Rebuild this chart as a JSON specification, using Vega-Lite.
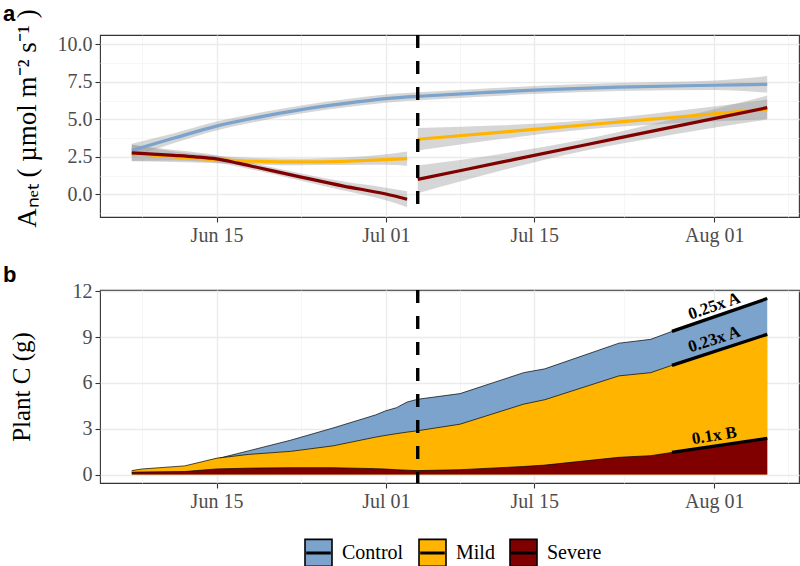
{
  "$schema": "https://vega.github.io/schema/vega-lite/v6.json",
  "background": "white",
  "padding": {"left": 2, "top": 2, "right": 0, "bottom": 0},
  "spacing": 17,
  "datasets": {
    "anet": [
      {"d": "2021-06-07", "t": "Control", "s": "all", "fit": 2.93, "lo": 2.48, "hi": 3.38},
      {"d": "2021-06-11", "t": "Control", "s": "all", "fit": 3.75, "lo": 3.42, "hi": 4.08},
      {"d": "2021-06-15", "t": "Control", "s": "all", "fit": 4.55, "lo": 4.25, "hi": 4.85},
      {"d": "2021-06-19", "t": "Control", "s": "all", "fit": 5.15, "lo": 4.87, "hi": 5.43},
      {"d": "2021-06-23", "t": "Control", "s": "all", "fit": 5.65, "lo": 5.38, "hi": 5.92},
      {"d": "2021-06-27", "t": "Control", "s": "all", "fit": 6.05, "lo": 5.78, "hi": 6.32},
      {"d": "2021-07-01", "t": "Control", "s": "all", "fit": 6.38, "lo": 6.11, "hi": 6.65},
      {"d": "2021-07-05", "t": "Control", "s": "all", "fit": 6.57, "lo": 6.31, "hi": 6.83},
      {"d": "2021-07-10", "t": "Control", "s": "all", "fit": 6.77, "lo": 6.51, "hi": 7.03},
      {"d": "2021-07-15", "t": "Control", "s": "all", "fit": 6.95, "lo": 6.68, "hi": 7.22},
      {"d": "2021-07-23", "t": "Control", "s": "all", "fit": 7.15, "lo": 6.88, "hi": 7.42},
      {"d": "2021-08-01", "t": "Control", "s": "all", "fit": 7.27, "lo": 6.95, "hi": 7.59},
      {"d": "2021-08-06", "t": "Control", "s": "all", "fit": 7.33, "lo": 6.78, "hi": 7.88},
      {"d": "2021-06-07", "t": "Mild", "s": "pre", "fit": 2.75, "lo": 2.20, "hi": 3.30},
      {"d": "2021-06-11", "t": "Mild", "s": "pre", "fit": 2.50, "lo": 2.15, "hi": 2.85},
      {"d": "2021-06-15", "t": "Mild", "s": "pre", "fit": 2.32, "lo": 2.07, "hi": 2.57},
      {"d": "2021-06-19", "t": "Mild", "s": "pre", "fit": 2.20, "lo": 1.98, "hi": 2.42},
      {"d": "2021-06-23", "t": "Mild", "s": "pre", "fit": 2.16, "lo": 1.94, "hi": 2.38},
      {"d": "2021-06-27", "t": "Mild", "s": "pre", "fit": 2.20, "lo": 1.95, "hi": 2.45},
      {"d": "2021-07-01", "t": "Mild", "s": "pre", "fit": 2.32, "lo": 1.97, "hi": 2.67},
      {"d": "2021-07-03", "t": "Mild", "s": "pre", "fit": 2.38, "lo": 1.91, "hi": 2.85},
      {"d": "2021-07-04", "t": "Mild", "s": "post", "fit": 3.67, "lo": 2.92, "hi": 4.42},
      {"d": "2021-07-12", "t": "Mild", "s": "post", "fit": 4.15, "lo": 3.70, "hi": 4.60},
      {"d": "2021-07-20", "t": "Mild", "s": "post", "fit": 4.64, "lo": 4.34, "hi": 4.94},
      {"d": "2021-07-28", "t": "Mild", "s": "post", "fit": 5.12, "lo": 4.72, "hi": 5.52},
      {"d": "2021-08-06", "t": "Mild", "s": "post", "fit": 5.67, "lo": 5.02, "hi": 6.32},
      {"d": "2021-06-07", "t": "Severe", "s": "pre", "fit": 2.77, "lo": 2.22, "hi": 3.32},
      {"d": "2021-06-11", "t": "Severe", "s": "pre", "fit": 2.60, "lo": 2.25, "hi": 2.95},
      {"d": "2021-06-13", "t": "Severe", "s": "pre", "fit": 2.50, "lo": 2.20, "hi": 2.80},
      {"d": "2021-06-15", "t": "Severe", "s": "pre", "fit": 2.36, "lo": 2.11, "hi": 2.61},
      {"d": "2021-06-17", "t": "Severe", "s": "pre", "fit": 2.08, "lo": 1.85, "hi": 2.31},
      {"d": "2021-06-19", "t": "Severe", "s": "pre", "fit": 1.77, "lo": 1.55, "hi": 1.99},
      {"d": "2021-06-23", "t": "Severe", "s": "pre", "fit": 1.15, "lo": 0.91, "hi": 1.39},
      {"d": "2021-06-27", "t": "Severe", "s": "pre", "fit": 0.55, "lo": 0.25, "hi": 0.85},
      {"d": "2021-07-01", "t": "Severe", "s": "pre", "fit": 0.02, "lo": -0.40, "hi": 0.44},
      {"d": "2021-07-03", "t": "Severe", "s": "pre", "fit": -0.33, "lo": -0.86, "hi": 0.20},
      {"d": "2021-07-04", "t": "Severe", "s": "post", "fit": 1.00, "lo": 0.08, "hi": 1.92},
      {"d": "2021-07-12", "t": "Severe", "s": "post", "fit": 2.16, "lo": 1.61, "hi": 2.71},
      {"d": "2021-07-20", "t": "Severe", "s": "post", "fit": 3.32, "lo": 2.94, "hi": 3.70},
      {"d": "2021-07-28", "t": "Severe", "s": "post", "fit": 4.48, "lo": 3.98, "hi": 4.98},
      {"d": "2021-08-06", "t": "Severe", "s": "post", "fit": 5.78, "lo": 4.98, "hi": 6.58}
    ],
    "plantc": [
      {"d": "2021-06-07", "t": "Control", "v": 0.20}, {"d": "2021-06-08", "t": "Control", "v": 0.30},
      {"d": "2021-06-12", "t": "Control", "v": 0.48}, {"d": "2021-06-15", "t": "Control", "v": 1.03},
      {"d": "2021-06-18", "t": "Control", "v": 1.55}, {"d": "2021-06-22", "t": "Control", "v": 2.25},
      {"d": "2021-06-26", "t": "Control", "v": 3.05}, {"d": "2021-06-30", "t": "Control", "v": 3.90},
      {"d": "2021-07-01", "t": "Control", "v": 4.18}, {"d": "2021-07-02", "t": "Control", "v": 4.38},
      {"d": "2021-07-03", "t": "Control", "v": 4.75}, {"d": "2021-07-04", "t": "Control", "v": 4.93},
      {"d": "2021-07-08", "t": "Control", "v": 5.30}, {"d": "2021-07-14", "t": "Control", "v": 6.67},
      {"d": "2021-07-16", "t": "Control", "v": 6.92}, {"d": "2021-07-23", "t": "Control", "v": 8.60},
      {"d": "2021-07-26", "t": "Control", "v": 8.85}, {"d": "2021-07-28", "t": "Control", "v": 9.37},
      {"d": "2021-08-06", "t": "Control", "v": 11.52},
      {"d": "2021-06-07", "t": "Mild", "v": 0.26}, {"d": "2021-06-08", "t": "Mild", "v": 0.37},
      {"d": "2021-06-12", "t": "Mild", "v": 0.57}, {"d": "2021-06-15", "t": "Mild", "v": 1.07},
      {"d": "2021-06-18", "t": "Mild", "v": 1.32}, {"d": "2021-06-22", "t": "Mild", "v": 1.52},
      {"d": "2021-06-26", "t": "Mild", "v": 1.88}, {"d": "2021-06-30", "t": "Mild", "v": 2.45},
      {"d": "2021-07-01", "t": "Mild", "v": 2.57}, {"d": "2021-07-02", "t": "Mild", "v": 2.68},
      {"d": "2021-07-03", "t": "Mild", "v": 2.78}, {"d": "2021-07-04", "t": "Mild", "v": 2.87},
      {"d": "2021-07-08", "t": "Mild", "v": 3.30}, {"d": "2021-07-14", "t": "Mild", "v": 4.61},
      {"d": "2021-07-16", "t": "Mild", "v": 4.90}, {"d": "2021-07-23", "t": "Mild", "v": 6.46},
      {"d": "2021-07-26", "t": "Mild", "v": 6.67}, {"d": "2021-07-28", "t": "Mild", "v": 7.15},
      {"d": "2021-08-06", "t": "Mild", "v": 9.18},
      {"d": "2021-06-07", "t": "Severe", "v": 0.15}, {"d": "2021-06-08", "t": "Severe", "v": 0.17},
      {"d": "2021-06-12", "t": "Severe", "v": 0.20}, {"d": "2021-06-15", "t": "Severe", "v": 0.37},
      {"d": "2021-06-18", "t": "Severe", "v": 0.42}, {"d": "2021-06-22", "t": "Severe", "v": 0.45},
      {"d": "2021-06-26", "t": "Severe", "v": 0.45}, {"d": "2021-06-30", "t": "Severe", "v": 0.39},
      {"d": "2021-07-01", "t": "Severe", "v": 0.36}, {"d": "2021-07-02", "t": "Severe", "v": 0.32},
      {"d": "2021-07-03", "t": "Severe", "v": 0.29}, {"d": "2021-07-04", "t": "Severe", "v": 0.26},
      {"d": "2021-07-08", "t": "Severe", "v": 0.32}, {"d": "2021-07-14", "t": "Severe", "v": 0.53},
      {"d": "2021-07-16", "t": "Severe", "v": 0.62}, {"d": "2021-07-23", "t": "Severe", "v": 1.13},
      {"d": "2021-07-26", "t": "Severe", "v": 1.24}, {"d": "2021-07-28", "t": "Severe", "v": 1.45},
      {"d": "2021-08-06", "t": "Severe", "v": 2.37}
    ],
    "segs": [
      {"t": "Control", "d": "2021-07-28", "d2": "2021-08-06", "v": 9.37, "v2": 11.52},
      {"t": "Mild", "d": "2021-07-28", "d2": "2021-08-06", "v": 7.15, "v2": 9.18},
      {"t": "Severe", "d": "2021-07-28", "d2": "2021-08-06", "v": 1.45, "v2": 2.37}
    ],
    "labs": [
      {"t": "Control", "d": "2021-08-01", "v": 11.02, "lab": "0.25x A"},
      {"t": "Mild", "d": "2021-08-01", "v": 8.84, "lab": "0.23x A"},
      {"t": "Severe", "d": "2021-08-01", "v": 2.54, "lab": "0.1x B"}
    ],
    "event": [{"d": "2021-07-04"}]
  },
  "vconcat": [
    {
      "width": 699,
      "height": 182,
      "title": {"text": "a", "dx": -97, "offset": -34, "baseline": "alphabetic"},
      "data": {"name": "anet"},
      "resolve": {"axis": {"y": "independent"}},
      "layer": [
        {
          "mark": {"type": "area", "interpolate": "monotone", "color": "#999999", "opacity": 0.4},
          "encoding": {
            "x": {
              "field": "d", "type": "temporal", "title": null,
              "scale": {"type": "utc", "domain": [{"year": 2021, "month": 6, "date": 4, "utc": true}, {"year": 2021, "month": 8, "date": 9, "utc": true}]},
              "axis": {
                "values": [{"year": 2021, "month": 6, "date": 8, "utc": true}, {"year": 2021, "month": 6, "date": 15, "utc": true}, {"year": 2021, "month": 6, "date": 23, "utc": true}, {"year": 2021, "month": 7, "date": 1, "utc": true}, {"year": 2021, "month": 7, "date": 8, "utc": true}, {"year": 2021, "month": 7, "date": 15, "utc": true}, {"year": 2021, "month": 7, "date": 23, "hours": 12, "utc": true}, {"year": 2021, "month": 8, "date": 1, "utc": true}, {"year": 2021, "month": 8, "date": 8, "utc": true}],
                "labelExpr": "(utcdate(datum.value) == 1 || utcdate(datum.value) == 15) ? utcFormat(datum.value, '%b %d') : ''",
                "labelOverlap": false, "labelFlush": false,
                "gridColor": {"condition": {"test": "utcdate(datum.value) == 1 || utcdate(datum.value) == 15", "value": "#EBEBEB"}, "value": "#F2F2F2"},
                "gridWidth": {"condition": {"test": "utcdate(datum.value) == 1 || utcdate(datum.value) == 15", "value": 1.4}, "value": 0.7},
                "tickOpacity": {"condition": {"test": "utcdate(datum.value) == 1 || utcdate(datum.value) == 15", "value": 1}, "value": 0}
              }
            },
            "y": {
              "field": "lo", "type": "quantitative", "title": "Aₙₑₜ ( µmol m⁻² s⁻¹ )",
              "scale": {"domain": [-1.51, 10.62], "nice": false, "zero": false},
              "axis": {
                "values": [0, 2.5, 5, 7.5, 10],
                "format": ".1f",
                "labelOverlap": false, "labelFlush": false,
                "titleX": -65, "titleY": 83, "titleBaseline": "alphabetic", "titleFontSize": 27
              }
            },
            "y2": {"field": "hi"},
            "detail": [{"field": "t"}, {"field": "s"}]
          }
        },
        {
          "transform": [{"filter": "datum.t == 'Control'"}],
          "mark": {"type": "line", "interpolate": "monotone", "strokeWidth": 3.2, "color": "#7BA3CC"},
          "encoding": {
            "x": {"field": "d", "type": "temporal"},
            "y": {
              "field": "fit", "type": "quantitative",
              "axis": {"orient": "right", "values": [-1.25, 1.25, 3.75, 6.25, 8.75], "labels": false, "ticks": false, "domain": false, "title": null, "grid": true, "gridColor": "#F2F2F2", "gridWidth": 0.7}
            },
            "detail": {"field": "s"}
          }
        },
        {
          "transform": [{"filter": "datum.t == 'Mild'"}],
          "mark": {"type": "line", "interpolate": "monotone", "strokeWidth": 3.2, "color": "#FFB400"},
          "encoding": {
            "x": {"field": "d", "type": "temporal"},
            "y": {"field": "fit", "type": "quantitative", "axis": null},
            "detail": {"field": "s"}
          }
        },
        {
          "transform": [{"filter": "datum.t == 'Severe'"}],
          "mark": {"type": "line", "interpolate": "monotone", "strokeWidth": 3.2, "color": "#800000"},
          "encoding": {
            "x": {"field": "d", "type": "temporal"},
            "y": {"field": "fit", "type": "quantitative", "axis": null},
            "detail": {"field": "s"}
          }
        },
        {
          "data": {"name": "event"},
          "mark": {"type": "rule", "strokeDash": [13, 13], "strokeWidth": 3.4, "color": "#000000"},
          "encoding": {"x": {"field": "d", "type": "temporal"}}
        }
      ]
    },
    {
      "width": 699,
      "height": 193,
      "title": {"text": "b", "dx": -97, "offset": -23, "baseline": "alphabetic"},
      "data": {"name": "plantc"},
      "layer": [
        {
          "transform": [{"filter": "datum.t == 'Control'"}],
          "mark": {"type": "area", "opacity": 1},
          "encoding": {
            "x": {
              "field": "d", "type": "temporal", "title": null,
              "scale": {"type": "utc", "domain": [{"year": 2021, "month": 6, "date": 4, "utc": true}, {"year": 2021, "month": 8, "date": 9, "utc": true}]},
              "axis": {
                "values": [{"year": 2021, "month": 6, "date": 8, "utc": true}, {"year": 2021, "month": 6, "date": 15, "utc": true}, {"year": 2021, "month": 6, "date": 23, "utc": true}, {"year": 2021, "month": 7, "date": 1, "utc": true}, {"year": 2021, "month": 7, "date": 8, "utc": true}, {"year": 2021, "month": 7, "date": 15, "utc": true}, {"year": 2021, "month": 7, "date": 23, "hours": 12, "utc": true}, {"year": 2021, "month": 8, "date": 1, "utc": true}, {"year": 2021, "month": 8, "date": 8, "utc": true}],
                "labelExpr": "(utcdate(datum.value) == 1 || utcdate(datum.value) == 15) ? utcFormat(datum.value, '%b %d') : ''",
                "labelOverlap": false, "labelFlush": false,
                "gridColor": {"condition": {"test": "utcdate(datum.value) == 1 || utcdate(datum.value) == 15", "value": "#EBEBEB"}, "value": "#F2F2F2"},
                "gridWidth": {"condition": {"test": "utcdate(datum.value) == 1 || utcdate(datum.value) == 15", "value": 1.4}, "value": 0.7},
                "tickOpacity": {"condition": {"test": "utcdate(datum.value) == 1 || utcdate(datum.value) == 15", "value": 1}, "value": 0}
              }
            },
            "y": {
              "field": "v", "type": "quantitative", "title": "Plant C (g)", "stack": null,
              "scale": {"domain": [-0.55, 12.08], "nice": false, "zero": false},
              "axis": {
                "values": [0, 1.5, 3, 4.5, 6, 7.5, 9, 10.5, 12],
                "labelExpr": "abs(datum.value / 3 - round(datum.value / 3)) < 0.01 ? format(datum.value, 'd') : ''",
                "labelOverlap": false, "labelFlush": false,
                "gridColor": {"condition": {"test": "abs(datum.value / 3 - round(datum.value / 3)) < 0.01", "value": "#EBEBEB"}, "value": "#F2F2F2"},
                "gridWidth": {"condition": {"test": "abs(datum.value / 3 - round(datum.value / 3)) < 0.01", "value": 1.4}, "value": 0.7},
                "tickOpacity": {"condition": {"test": "abs(datum.value / 3 - round(datum.value / 3)) < 0.01", "value": 1}, "value": 0},
                "titleX": -71, "titleY": 96.5, "titleBaseline": "alphabetic"
              }
            },
            "fill": {
              "field": "t", "type": "nominal",
              "scale": {"domain": ["Control", "Mild", "Severe"], "range": ["#7BA3CC", "#FFB400", "#800000"]},
              "legend": {
                "orient": "none", "legendX": 204, "legendY": 503, "direction": "horizontal", "title": null,
                "symbolType": "M-1,-1H1V1H-1Z M-0.85,-0.05H0.85V0.05H-0.85Z",
                "symbolSize": 729, "symbolStrokeColor": "#000000", "symbolStrokeWidth": 1.6,
                "labelFont": "Liberation Serif", "labelFontSize": 20, "labelColor": "#000000",
                "labelOffset": 9, "columnPadding": 11,
                "encode": {"labels": {"update": {"font": {"value": "Liberation Serif"}, "fontSize": {"value": 20}, "fill": {"value": "#000000"}}}}
              }
            }
          }
        },
        {
          "transform": [{"filter": "datum.t == 'Control'"}],
          "mark": {"type": "line", "color": "#000000", "strokeWidth": 0.7},
          "encoding": {"x": {"field": "d", "type": "temporal"}, "y": {"field": "v", "type": "quantitative"}}
        },
        {
          "transform": [{"filter": "datum.t == 'Mild'"}],
          "mark": {"type": "area", "opacity": 1},
          "encoding": {"x": {"field": "d", "type": "temporal"}, "y": {"field": "v", "type": "quantitative", "stack": null}, "fill": {"field": "t", "type": "nominal"}}
        },
        {
          "transform": [{"filter": "datum.t == 'Mild'"}],
          "mark": {"type": "line", "color": "#000000", "strokeWidth": 0.7},
          "encoding": {"x": {"field": "d", "type": "temporal"}, "y": {"field": "v", "type": "quantitative"}}
        },
        {
          "transform": [{"filter": "datum.t == 'Severe'"}],
          "mark": {"type": "area", "opacity": 1},
          "encoding": {"x": {"field": "d", "type": "temporal"}, "y": {"field": "v", "type": "quantitative", "stack": null}, "fill": {"field": "t", "type": "nominal"}}
        },
        {
          "transform": [{"filter": "datum.t == 'Severe'"}],
          "mark": {"type": "line", "color": "#000000", "strokeWidth": 0.7},
          "encoding": {"x": {"field": "d", "type": "temporal"}, "y": {"field": "v", "type": "quantitative"}}
        },
        {
          "data": {"name": "segs"},
          "mark": {"type": "rule", "color": "#000000", "strokeWidth": 3.3},
          "encoding": {"x": {"field": "d", "type": "temporal"}, "x2": {"field": "d2"}, "y": {"field": "v", "type": "quantitative"}, "y2": {"field": "v2"}}
        },
        {
          "data": {"name": "labs"},
          "transform": [{"filter": "datum.t == 'Control'"}],
          "mark": {"type": "text", "font": "Liberation Serif", "fontWeight": "bold", "fontSize": 17, "angle": 341, "color": "#000000"},
          "encoding": {"x": {"field": "d", "type": "temporal"}, "y": {"field": "v", "type": "quantitative"}, "text": {"field": "lab"}}
        },
        {
          "data": {"name": "labs"},
          "transform": [{"filter": "datum.t == 'Mild'"}],
          "mark": {"type": "text", "font": "Liberation Serif", "fontWeight": "bold", "fontSize": 17, "angle": 342, "color": "#000000"},
          "encoding": {"x": {"field": "d", "type": "temporal"}, "y": {"field": "v", "type": "quantitative"}, "text": {"field": "lab"}}
        },
        {
          "data": {"name": "labs"},
          "transform": [{"filter": "datum.t == 'Severe'"}],
          "mark": {"type": "text", "font": "Liberation Serif", "fontWeight": "bold", "fontSize": 17, "angle": 351, "color": "#000000"},
          "encoding": {"x": {"field": "d", "type": "temporal"}, "y": {"field": "v", "type": "quantitative"}, "text": {"field": "lab"}}
        },
        {
          "data": {"name": "event"},
          "mark": {"type": "rule", "strokeDash": [13, 13], "strokeWidth": 3.4, "color": "#000000"},
          "encoding": {"x": {"field": "d", "type": "temporal"}}
        }
      ]
    }
  ],
  "config": {
    "view": {"stroke": "#333333", "strokeWidth": 1.1},
    "axis": {
      "labelFont": "Liberation Serif", "labelFontSize": 20, "labelColor": "#4D4D4D",
      "tickColor": "#333333", "tickSize": 5, "tickWidth": 1.1, "domain": false,
      "titleFont": "Liberation Serif", "titleFontSize": 25, "titleFontWeight": "normal", "titleColor": "#000000",
      "labelPadding": 3, "gridColor": "#EBEBEB", "gridWidth": 1.4
    },
    "legend": {"labelFont": "Liberation Serif", "labelFontSize": 20, "labelColor": "#000000"},
    "title": {"font": "Liberation Sans", "fontSize": 22, "fontWeight": "bold", "color": "#000000", "anchor": "start", "frame": "group"}
  }
}
